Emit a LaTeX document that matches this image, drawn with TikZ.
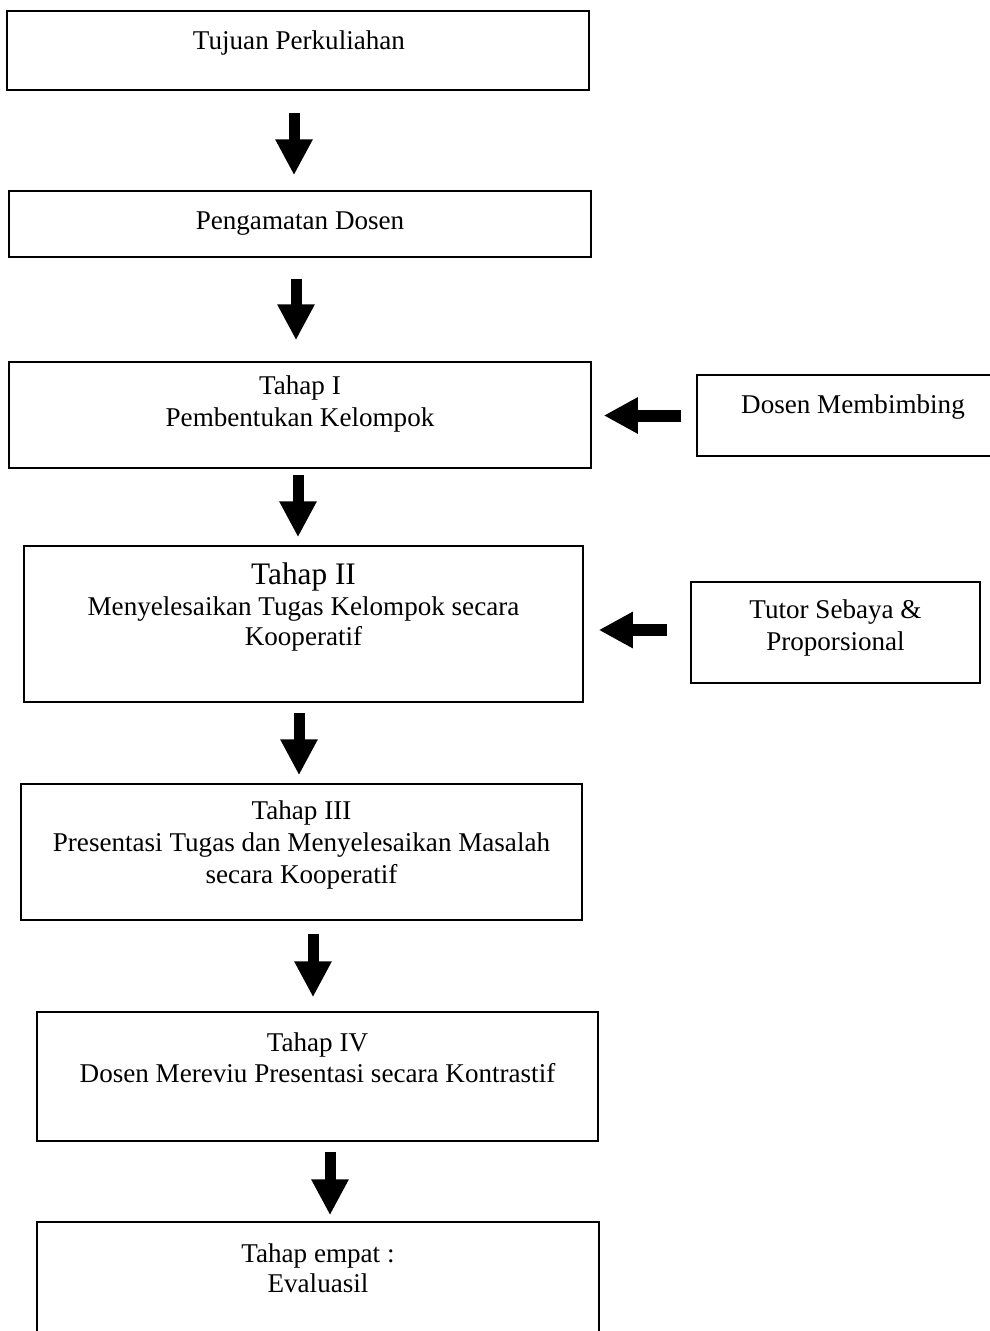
\documentclass[tikz,border=0pt]{standalone}
\usepackage{fontspec}
\setmainfont{Liberation Serif}
\usetikzlibrary{arrows.meta,calc}
\begin{document}
\begin{tikzpicture}[x=1pt,y=-1pt,
  box/.style={draw, line width=1.5pt, rectangle, inner sep=0pt},
  txt/.style={anchor=base, inner sep=0pt, font=\fontsize{27.1}{32}\selectfont},
  bigtxt/.style={anchor=base, inner sep=0pt, font=\fontsize{31.3}{36}\selectfont},
  downarrow/.style={line width=11pt, -{Triangle[length=36pt,width=35pt]}},
  leftarrow/.style={line width=12pt, -{Triangle[length=34pt,width=34pt]}},
]
\useasboundingbox (0,0) rectangle (990,1331);
\begin{scope}
\clip (0,0) rectangle (990,1331);
% main column boxes
\node[box, minimum width=582pt, minimum height=79pt]  (b1) at (298,50.5) {};
\node[box, minimum width=582pt, minimum height=66pt]  (b2) at (300,224) {};
\node[box, minimum width=582pt, minimum height=106pt] (b3) at (300,415) {};
\node[box, minimum width=559pt, minimum height=156pt] (b4) at (303.5,624) {};
\node[box, minimum width=561pt, minimum height=136pt] (b5) at (301.5,852) {};
\node[box, minimum width=561pt, minimum height=129pt] (b6) at (317.5,1076.5) {};
\node[box, minimum width=562pt, minimum height=160pt] (b7) at (318,1302) {};
% side boxes
\node[box, minimum width=300pt, minimum height=81pt]  (r1) at (847,415.5) {};
\node[box, minimum width=289pt, minimum height=101pt] (r2) at (835.5,632.5) {};

% texts
\node[txt] (t1) at (299,49) {Tujuan Perkuliahan};
\node[txt] (t2) at (300,229) {Pengamatan Dosen};
\node[txt] (t3a) at (300,394) {Tahap I};
\node[txt] (t3b) at (300,426) {Pembentukan Kelompok};
\node[bigtxt] (t4a) at (303.5,584) {Tahap II};
\node[txt] (t4b) at (303.5,615) {Menyelesaikan Tugas Kelompok secara};
\node[txt] (t4c) at (303.5,645) {Kooperatif};
\node[txt] (t5a) at (301.5,819) {Tahap III};
\node[txt] (t5b) at (301.5,851) {Presentasi Tugas dan Menyelesaikan Masalah};
\node[txt] (t5c) at (301.5,883) {secara Kooperatif};
\node[txt] (t6a) at (317.5,1051) {Tahap IV};
\node[txt] (t6b) at (317.5,1082) {Dosen Mereviu Presentasi secara Kontrastif};
\node[txt] (t7a) at (318,1262) {Tahap empat :};
\node[txt] (t7b) at (318,1292) {Evaluasil};
\node[txt] (tr1) at (853,413) {Dosen Membimbing};
\node[txt] (tr2a) at (835.5,618) {Tutor Sebaya \&};
\node[txt] (tr2b) at (835.5,650) {Proporsional};

% down arrows
\coordinate (a1) at ($(b1.south)+(-4,0)$);
\coordinate (a2) at ($(b2.south)+(-4,0)$);
\coordinate (a3) at ($(b3.south)+(-2,0)$);
\coordinate (a4) at ($(b4.south)+(-4.5,0)$);
\coordinate (a5) at ($(b5.south)+(11.5,0)$);
\coordinate (a6) at ($(b6.south)+(12.5,0)$);
\draw[downarrow, shorten <=22pt, shorten >=15pt] (a1) -- (a1 |- b2.north);
\draw[downarrow, shorten <=21pt, shorten >=21pt] (a2) -- (a2 |- b3.north);
\draw[downarrow, shorten <=6pt,  shorten >=8pt]  (a3) -- (a3 |- b4.north);
\draw[downarrow, shorten <=10pt, shorten >=8pt]  (a4) -- (a4 |- b5.north);
\draw[downarrow, shorten <=13pt, shorten >=14pt] (a5) -- (a5 |- b6.north);
\draw[downarrow, shorten <=10pt, shorten >=6pt]  (a6) -- (a6 |- b7.north);

% left arrows
\draw[leftarrow, shorten <=15pt, shorten >=12pt] (r1.west) -- (r1.west -| b3.east);
\coordinate (l2) at ($(r2.west)+(0,-2.5)$);
\draw[leftarrow, shorten <=23pt, shorten >=15pt] (l2) -- (l2 -| b4.east);
\end{scope}
\end{tikzpicture}
\end{document}
